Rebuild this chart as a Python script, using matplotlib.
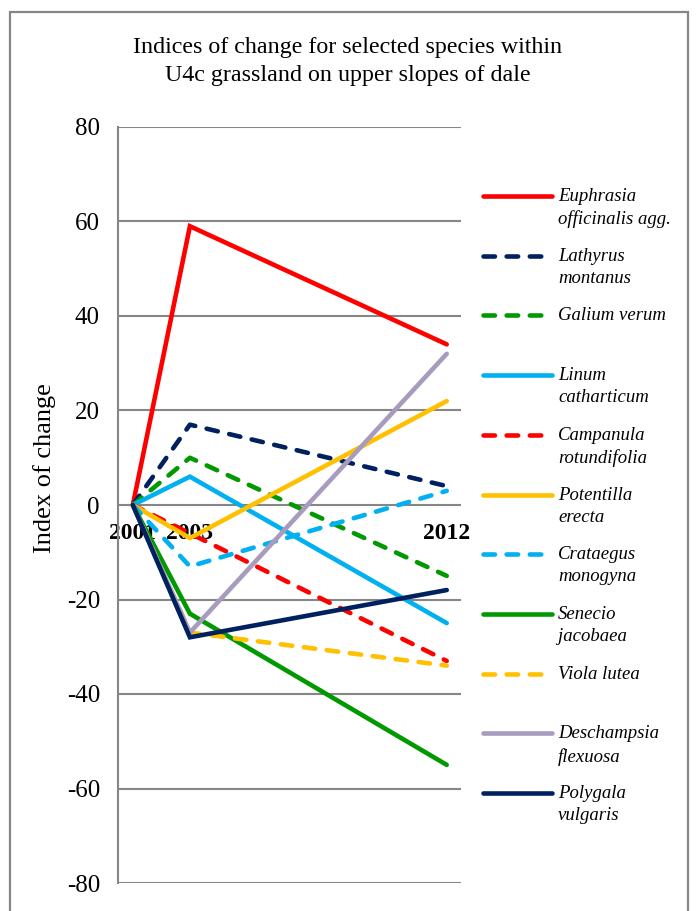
import numpy as np
import matplotlib
matplotlib.use("Agg")
import matplotlib.pyplot as plt
from matplotlib.lines import Line2D
from matplotlib.patches import Rectangle

plt.rcParams['font.family'] = ['Liberation Serif', 'DejaVu Serif']

years = [2001, 2003, 2012]
species = [
    "Euphrasia\nofficinalis agg.",
    "Lathyrus\nmontanus",
    "Galium verum",
    "Linum\ncatharticum",
    "Campanula\nrotundifolia",
    "Potentilla\nerecta",
    "Crataegus\nmonogyna",
    "Senecio\njacobaea",
    "Viola lutea",
    "Deschampsia\nflexuosa",
    "Polygala\nvulgaris",
]
euphrasia = [0, 59, 34]
lathyrus = [0, 17, 4]
galium = [0, 10, -15]
linum = [0, 6, -25]
campanula = [0, -6, -33]
potentilla = [0, -7, 22]
crataegus = [0, -13, 3]
senecio = [0, -23, -55]
viola = [0, -27, -34]
deschampsia = [0, -27, 32]
polygala = [0, -28, -18]
series = [euphrasia, lathyrus, galium, linum, campanula, potentilla,
          crataegus, senecio, viola, deschampsia, polygala]

colours = ["#ff0000", "#002060", "#009900", "#00b0f0", "#ff0000", "#ffc000",
           "#00b0f0", "#009900", "#ffc000", "#a99bbd", "#002060"]
dashed = [False, True, True, False, True, False, True, False, True, False, False]

W, H = 696, 911
fig = plt.figure(figsize=(W / 100, H / 100), dpi=100)
ax = fig.add_axes([118 / W, 1 - 883 / H, (461 - 118) / W, (883 - 127) / H])

lw = 3.3
dash = (0, (2.5, 2.55))
for vals, c, d in zip(series, colours, dashed):
    ax.plot(years, vals, color=c, lw=lw, ls=dash if d else '-',
            solid_capstyle='round', dash_capstyle='round',
            solid_joinstyle='miter', zorder=3)

ax.set_xlim(2000.48, 2012.5)
ax.set_ylim(-80, 80)
ax.set_yticks(np.arange(-80, 81, 20))
ax.set_yticklabels([str(v) for v in range(-80, 81, 20)], fontsize=18)
ax.yaxis.grid(True, color='#868686', lw=1.5)
ax.set_axisbelow(True)
for s in ['top', 'right', 'bottom']:
    ax.spines[s].set_visible(False)
ax.spines['left'].set_color('#868686')
ax.spines['left'].set_linewidth(1.5)
ax.tick_params(axis='y', length=0, pad=13)
ax.set_xticks([])

# year labels sit on the zero line
for yr in years:
    ax.text(yr, -3.9, str(yr), ha='center', va='top', fontsize=17,
            fontweight='bold', zorder=2)

ax.set_ylabel("Index of change", fontsize=19)
ax.yaxis.set_label_coords(-0.18, 0.549)

fig.text(0.5, 1 - 48 / H, "Indices of change for selected species within",
         ha='center', va='center', fontsize=17.3)
fig.text(0.5, 1 - 75 / H, "U4c grassland on upper slopes of dale",
         ha='center', va='center', fontsize=17.3)

# legend, one entry per species down the right side
y0, step = 196, 59.7
for i, (name, c, d) in enumerate(zip(species, colours, dashed)):
    yy = 1 - (y0 + i * step) / H
    fig.add_artist(Line2D([483 / W, 552 / W], [yy, yy], color=c, lw=lw,
                          ls=dash if d else '-', solid_capstyle='round',
                          dash_capstyle='round', transform=fig.transFigure))
    fig.text(558 / W, yy + 8 / H, name, ha='left', va='top', fontsize=13.5,
             style='italic', linespacing=1.4)

fig.add_artist(Rectangle((10 / W, -0.05), (688 - 10) / W, 1.05 - 12 / H,
                         transform=fig.transFigure, fill=False,
                         edgecolor='#868686', lw=1.6))

fig.savefig("out.png", dpi=100)
